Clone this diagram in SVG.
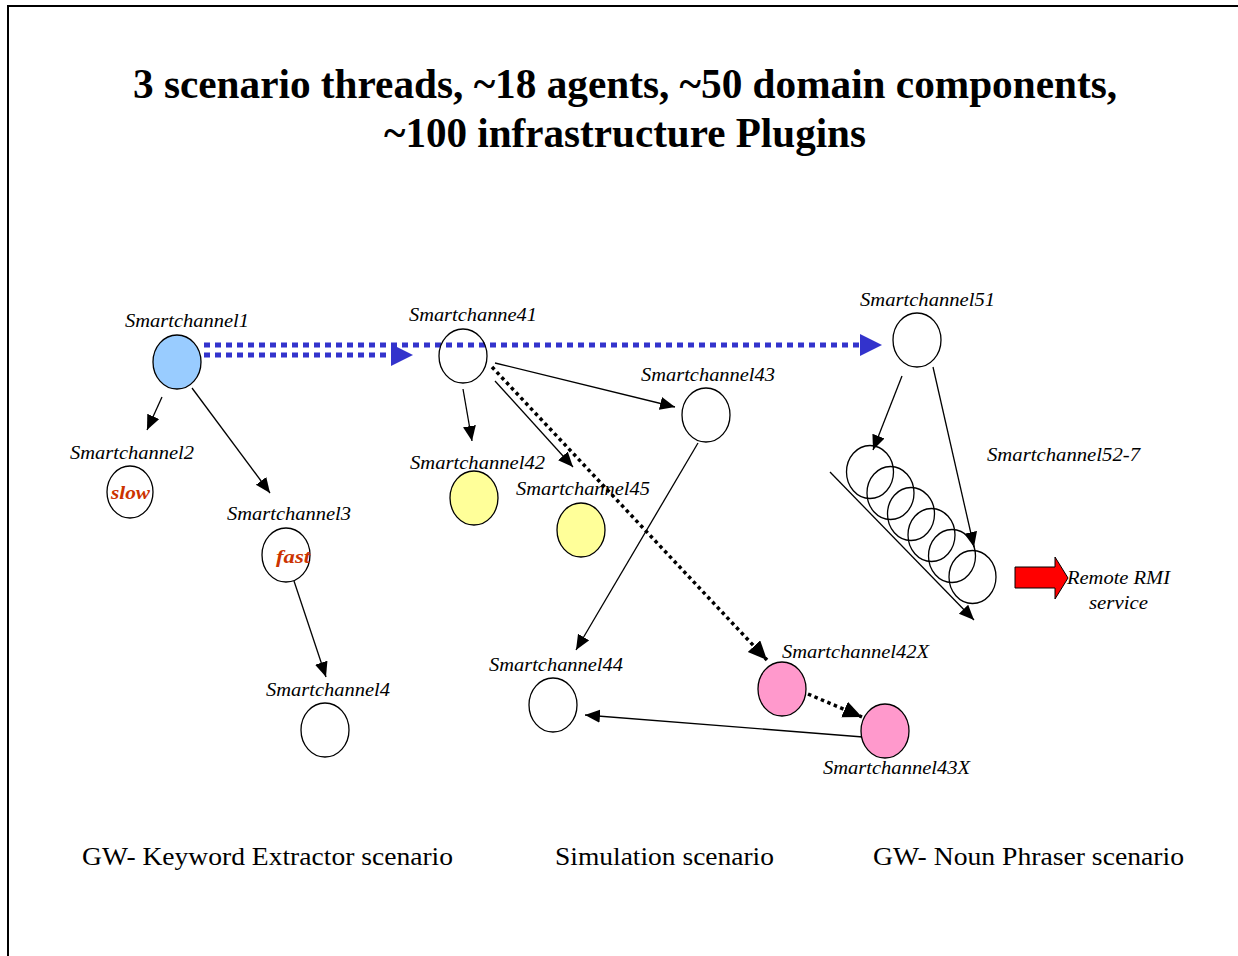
<svg xmlns="http://www.w3.org/2000/svg" width="1238" height="956" viewBox="0 0 1238 956">
<style>
.node{stroke:#000;stroke-width:1.3}
.lbl{font-family:"Liberation Serif",serif;font-style:italic;font-size:19px;fill:#000}
.tag{font-family:"Liberation Serif",serif;font-style:italic;font-weight:bold;font-size:19px;fill:#cc3300}
.title{font-family:"Liberation Serif",serif;font-weight:bold;font-size:42px;fill:#000}
.foot{font-family:"Liberation Serif",serif;font-size:25px;fill:#000}
.arr{stroke:#000;stroke-width:1.3;fill:none;marker-end:url(#ah)}
.dot{stroke:#000;stroke-width:3.5;fill:none;stroke-dasharray:3.5 3.5;marker-end:url(#ahb)}
.blue{stroke:#3333cc;stroke-width:5;fill:none;stroke-dasharray:6 5}
</style>
<defs>
<marker id="ah" markerUnits="userSpaceOnUse" markerWidth="16" markerHeight="14" refX="15" refY="6.5" orient="auto">
<path d="M0,0 L15,6.5 L0,13 z" fill="#000"/>
</marker>
<marker id="ahb" markerUnits="userSpaceOnUse" markerWidth="20" markerHeight="18" refX="19" refY="8.5" orient="auto">
<path d="M0,0 L19,8.5 L0,17 z" fill="#000"/>
</marker>
</defs>
<rect width="1238" height="956" fill="#fff"/>
<path d="M8,956 L8,6 L1238,6" fill="none" stroke="#000" stroke-width="2"/>
<text class="title" x="625" y="98" text-anchor="middle" textLength="984" lengthAdjust="spacingAndGlyphs">3 scenario threads, ~18 agents, ~50 domain components,</text>
<text class="title" x="625" y="147" text-anchor="middle" textLength="482" lengthAdjust="spacingAndGlyphs">~100 infrastructure Plugins</text>

<g id="connectors">
<line class="blue" x1="204" y1="345" x2="862" y2="345"/>
<path d="M860,334 L882,345 L860,356 z" fill="#3333cc"/>
<line class="blue" x1="204" y1="355" x2="392" y2="355"/>
<path d="M391,344 L413,355 L391,366 z" fill="#3333cc"/>
<line class="arr" x1="162" y1="397" x2="147" y2="430"/>
<line class="arr" x1="192" y1="388" x2="270" y2="493"/>
<line class="arr" x1="294" y1="581" x2="326" y2="677"/>
<line class="arr" x1="463" y1="389" x2="472" y2="441"/>
<line class="arr" x1="495" y1="381" x2="573" y2="467"/>
<line class="arr" x1="495" y1="363" x2="675" y2="407"/>
<line class="dot" x1="492" y1="367" x2="767" y2="660"/>
<line class="arr" x1="698" y1="443" x2="576" y2="650"/>
<line class="dot" x1="808" y1="694" x2="862" y2="717"/>
<line class="arr" x1="863" y1="737" x2="585" y2="715"/>
<line class="arr" x1="902" y1="376" x2="873" y2="450"/>
<line class="arr" x1="933" y1="367" x2="974" y2="547"/>
<line class="arr" x1="830" y1="472" x2="974" y2="620"/>
</g>

<g id="sc1"><ellipse class="node" cx="177" cy="362" rx="24" ry="27" fill="#99ccff"/><text class="lbl" x="125" y="327" textLength="124" lengthAdjust="spacingAndGlyphs">Smartchannel1</text></g>
<g id="sc2"><ellipse class="node" cx="130" cy="492" rx="23" ry="26" fill="#fff"/><text class="tag" x="111" y="499" textLength="39" lengthAdjust="spacingAndGlyphs">slow</text><text class="lbl" x="70" y="459" textLength="124" lengthAdjust="spacingAndGlyphs">Smartchannel2</text></g>
<g id="sc3"><ellipse class="node" cx="286" cy="555" rx="24" ry="27" fill="#fff"/><text class="tag" x="276" y="563" textLength="34" lengthAdjust="spacingAndGlyphs">fast</text><text class="lbl" x="227" y="520" textLength="124" lengthAdjust="spacingAndGlyphs">Smartchannel3</text></g>
<g id="sc4"><ellipse class="node" cx="325" cy="730" rx="24" ry="27" fill="#fff"/><text class="lbl" x="266" y="696" textLength="124" lengthAdjust="spacingAndGlyphs">Smartchannel4</text></g>
<g id="sc41"><ellipse class="node" cx="463" cy="356" rx="24" ry="27" fill="none"/><text class="lbl" x="409" y="321" textLength="128" lengthAdjust="spacingAndGlyphs">Smartchanne41</text></g>
<g id="sc42"><ellipse class="node" cx="474" cy="498" rx="24" ry="27" fill="#ffff99"/><text class="lbl" x="410" y="469" textLength="135" lengthAdjust="spacingAndGlyphs">Smartchannel42</text></g>
<g id="sc45"><ellipse class="node" cx="581" cy="530" rx="24" ry="27" fill="#ffff99"/><text class="lbl" x="516" y="495" textLength="134" lengthAdjust="spacingAndGlyphs">Smartchannel45</text></g>
<g id="sc43"><ellipse class="node" cx="706" cy="415" rx="24" ry="27" fill="#fff"/><text class="lbl" x="641" y="381" textLength="134" lengthAdjust="spacingAndGlyphs">Smartchannel43</text></g>
<g id="sc44"><ellipse class="node" cx="553" cy="705" rx="24" ry="27" fill="#fff"/><text class="lbl" x="489" y="671" textLength="134" lengthAdjust="spacingAndGlyphs">Smartchannel44</text></g>
<g id="sc42x"><ellipse class="node" cx="782" cy="689" rx="24" ry="27" fill="#ff99cc"/><text class="lbl" x="782" y="658" textLength="147" lengthAdjust="spacingAndGlyphs">Smartchannel42X</text></g>
<g id="sc43x"><ellipse class="node" cx="885" cy="731" rx="24" ry="27" fill="#ff99cc"/><text class="lbl" x="823" y="774" textLength="147" lengthAdjust="spacingAndGlyphs">Smartchannel43X</text></g>
<g id="sc51"><ellipse class="node" cx="917" cy="340" rx="24" ry="27" fill="none"/><text class="lbl" x="860" y="306" textLength="135" lengthAdjust="spacingAndGlyphs">Smartchannel51</text></g>
<g id="sc52-7">
<ellipse class="node" cx="870" cy="472" rx="23.5" ry="26.5" fill="none"/>
<ellipse class="node" cx="890.5" cy="493" rx="23.5" ry="26.5" fill="none"/>
<ellipse class="node" cx="911" cy="514" rx="23.5" ry="26.5" fill="none"/>
<ellipse class="node" cx="931.5" cy="535" rx="23.5" ry="26.5" fill="none"/>
<ellipse class="node" cx="952" cy="556" rx="23.5" ry="26.5" fill="none"/>
<ellipse class="node" cx="972.5" cy="577" rx="23.5" ry="26.5" fill="none"/>
<text class="lbl" x="987" y="461" textLength="153" lengthAdjust="spacingAndGlyphs">Smartchannel52-7</text>
</g>
<g id="rmi">
<path d="M1015,567 L1055,567 L1055,557 L1068,578 L1055,599 L1055,588 L1015,588 z" fill="#ff0000" stroke="#000" stroke-width="1"/>
<text class="lbl" x="1067" y="584" textLength="103" lengthAdjust="spacingAndGlyphs">Remote RMI</text>
<text class="lbl" x="1089" y="609" textLength="59" lengthAdjust="spacingAndGlyphs">service</text>
</g>
<text class="foot" x="82" y="865" textLength="371" lengthAdjust="spacingAndGlyphs">GW- Keyword Extractor scenario</text>
<text class="foot" x="555" y="865" textLength="219" lengthAdjust="spacingAndGlyphs">Simulation scenario</text>
<text class="foot" x="873" y="865" textLength="311" lengthAdjust="spacingAndGlyphs">GW- Noun Phraser scenario</text>
</svg>
